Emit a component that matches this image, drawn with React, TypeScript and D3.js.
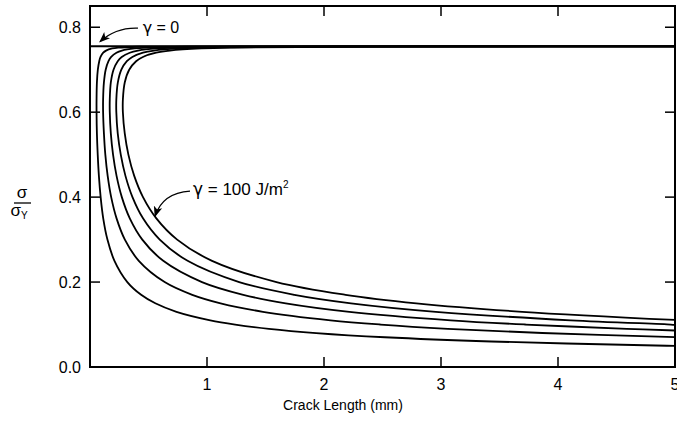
import React from "react";
import * as d3 from "d3";

// crack length (mm) vs normalised fracture stress
// each curve is a list of [a, s] points, top branch -> turning point -> tail
const gammaZeroLevel = 0.755;

const curve20 = [
  [5, 0.755], [0.595, 0.7545], [0.42, 0.754], [0.244, 0.752], [0.19, 0.75], [0.137, 0.745],
  [0.113, 0.74], [0.09, 0.73], [0.079, 0.72], [0.067, 0.7], [0.059, 0.67], [0.056, 0.63],
  [0.056, 0.6], [0.059, 0.55], [0.066, 0.5], [0.076, 0.45], [0.091, 0.4], [0.113, 0.35],
  [0.149, 0.3], [0.209, 0.25], [0.319, 0.2], [0.437, 0.17], [0.558, 0.15], [0.739, 0.13],
  [1.028, 0.11], [1.241, 0.1], [1.529, 0.09], [1.933, 0.08], [2.52, 0.07], [3.43, 0.06],
  [4.93, 0.05], [5, 0.0496],
];
const curve40 = [
  [5, 0.755], [1.19, 0.7545], [0.84, 0.754], [0.488, 0.752], [0.381, 0.75], [0.273, 0.745],
  [0.226, 0.74], [0.181, 0.73], [0.158, 0.72], [0.134, 0.7], [0.119, 0.67], [0.112, 0.63],
  [0.112, 0.6], [0.119, 0.55], [0.131, 0.5], [0.151, 0.45], [0.181, 0.4], [0.227, 0.35],
  [0.298, 0.3], [0.417, 0.25], [0.638, 0.2], [0.874, 0.17], [1.116, 0.15], [1.478, 0.13],
  [2.055, 0.11], [2.482, 0.1], [3.058, 0.09], [3.866, 0.08], [5, 0.0702],
];
const curve60 = [
  [5, 0.755], [1.79, 0.7545], [1.26, 0.754], [0.733, 0.752], [0.571, 0.75], [0.41, 0.745],
  [0.34, 0.74], [0.271, 0.73], [0.237, 0.72], [0.201, 0.7], [0.178, 0.67], [0.169, 0.63],
  [0.169, 0.6], [0.178, 0.55], [0.197, 0.5], [0.227, 0.45], [0.272, 0.4], [0.34, 0.35],
  [0.447, 0.3], [0.626, 0.25], [0.957, 0.2], [1.31, 0.17], [1.673, 0.15], [2.217, 0.13],
  [3.083, 0.11], [3.723, 0.1], [4.588, 0.09], [5, 0.0859],
];
const curve80 = [
  [5, 0.755], [2.38, 0.7545], [1.68, 0.754], [0.977, 0.752], [0.761, 0.75], [0.547, 0.745],
  [0.453, 0.74], [0.362, 0.73], [0.315, 0.72], [0.268, 0.7], [0.238, 0.67], [0.225, 0.63],
  [0.225, 0.6], [0.237, 0.55], [0.263, 0.5], [0.303, 0.45], [0.363, 0.4], [0.453, 0.35],
  [0.596, 0.3], [0.834, 0.25], [1.275, 0.2], [1.747, 0.17], [2.231, 0.15], [2.956, 0.13],
  [4.11, 0.11], [4.964, 0.1], [5, 0.0992],
];
const curve100 = [
  [5, 0.755], [2.98, 0.7545], [2.1, 0.754], [1.22, 0.752], [0.951, 0.75], [0.683, 0.745],
  [0.566, 0.74], [0.452, 0.73], [0.394, 0.72], [0.335, 0.7], [0.297, 0.67], [0.281, 0.63],
  [0.281, 0.6], [0.297, 0.55], [0.328, 0.5], [0.378, 0.45], [0.453, 0.4], [0.567, 0.35],
  [0.745, 0.3], [1.043, 0.25], [1.594, 0.2], [2.184, 0.17], [2.789, 0.15], [3.694, 0.13],
  [5, 0.1109],
];
const curves = [curve20, curve40, curve60, curve80, curve100];

const xTicks = [1, 2, 3, 4, 5];
const yTicks = [0.0, 0.2, 0.4, 0.6, 0.8];

const W = 677;
const H = 421;
const FONT = "'Liberation Sans', Arial, Helvetica, sans-serif";
const GREEK = "'DejaVu Sans', sans-serif";

export default function App() {
  const margin = { left: 90, right: 2, top: 6, bottom: 54 };
  const x = d3.scaleLinear().domain([0, 5]).range([margin.left, W - margin.right]);
  const y = d3.scaleLinear().domain([0, 0.85]).range([H - margin.bottom, margin.top]);

  const line = d3
    .line()
    .x((d) => x(d[0]))
    .y((d) => y(d[1]))
    .curve(d3.curveCatmullRom.alpha(0.5));

  const [x0, x1] = x.range();
  const [yb, yt] = y.range();
  const tick = 10;

  // annotation arrows (data units)
  const arrow = (from, ctrl, to) =>
    `M${x(from[0])},${y(from[1])} Q${x(ctrl[0])},${y(ctrl[1])} ${x(to[0])},${y(to[1])}`;

  return (
    <svg
      width={W}
      height={H}
      style={{ position: "absolute", left: 0, top: 0, background: "#fff" }}
      fontFamily={FONT}
    >
      <defs>
        <clipPath id="plot">
          <rect x={x0} y={yt} width={x1 - x0} height={yb - yt} />
        </clipPath>
        <marker id="head" viewBox="0 0 10 10" refX="9" refY="5" markerWidth="9" markerHeight="9" orient="auto">
          <path d="M0,1 L10,5 L0,9 L2.5,5 Z" fill="#000" />
        </marker>
      </defs>

      <g clipPath="url(#plot)">
        <line x1={x(0)} x2={x(5)} y1={y(gammaZeroLevel)} y2={y(gammaZeroLevel)} stroke="#000" strokeWidth={2} />
        {curves.map((c, i) => (
          <path key={i} d={line(c)} fill="none" stroke="#000" strokeWidth={1.8} />
        ))}
      </g>

      {/* frame + inward ticks on all sides */}
      <rect x={x0} y={yt} width={x1 - x0} height={yb - yt} fill="none" stroke="#000" strokeWidth={2} />
      {xTicks.map((t) => (
        <g key={"x" + t}>
          <line x1={x(t)} x2={x(t)} y1={yb} y2={yb - tick} stroke="#000" strokeWidth={1.5} />
          <line x1={x(t)} x2={x(t)} y1={yt} y2={yt + tick} stroke="#000" strokeWidth={1.5} />
          <text x={x(t)} y={yb + 23} textAnchor="middle" fontSize={16}>
            {t}
          </text>
        </g>
      ))}
      {yTicks.map((t) => (
        <g key={"y" + t}>
          <line x1={x0} x2={x0 + tick} y1={y(t)} y2={y(t)} stroke="#000" strokeWidth={1.5} />
          <line x1={x1} x2={x1 - tick} y1={y(t)} y2={y(t)} stroke="#000" strokeWidth={1.5} />
          <text x={x0 - 9} y={y(t) + 6} textAnchor="end" fontSize={16}>
            {t.toFixed(1)}
          </text>
        </g>
      ))}

      <text x={343} y={yb + 43} textAnchor="middle" fontSize={14}>
        Crack Length (mm)
      </text>

      {/* sigma / sigma_Y as a stacked fraction */}
      <g transform="translate(22, 203)" fontSize={17}>
        <text x={0} y={-5} textAnchor="middle">σ</text>
        <line x1={-8} x2={9} y1={0} y2={0} stroke="#000" strokeWidth={1.3} />
        <text x={-3} y={13} textAnchor="middle">
          σ<tspan fontSize={10} dy={3}>Y</tspan>
        </text>
      </g>

      {/* annotations */}
      <path d={arrow([0.41, 0.798], [0.22, 0.8], [0.085, 0.766])} fill="none" stroke="#000" strokeWidth={1.2} markerEnd="url(#head)" />
      <text x={x(0.45)} y={y(0.8) + 6} fontSize={16}>
        <tspan fontFamily={GREEK}>γ</tspan> = 0
      </text>

      <path d={arrow([0.855, 0.414], [0.62, 0.41], [0.556, 0.355])} fill="none" stroke="#000" strokeWidth={1.2} markerEnd="url(#head)" />
      <text x={x(0.88)} y={y(0.42) + 6} fontSize={17}>
        <tspan fontFamily={GREEK}>γ</tspan> = 100 J/m<tspan fontSize={10} dy={-7}>2</tspan>
      </text>
    </svg>
  );
}
